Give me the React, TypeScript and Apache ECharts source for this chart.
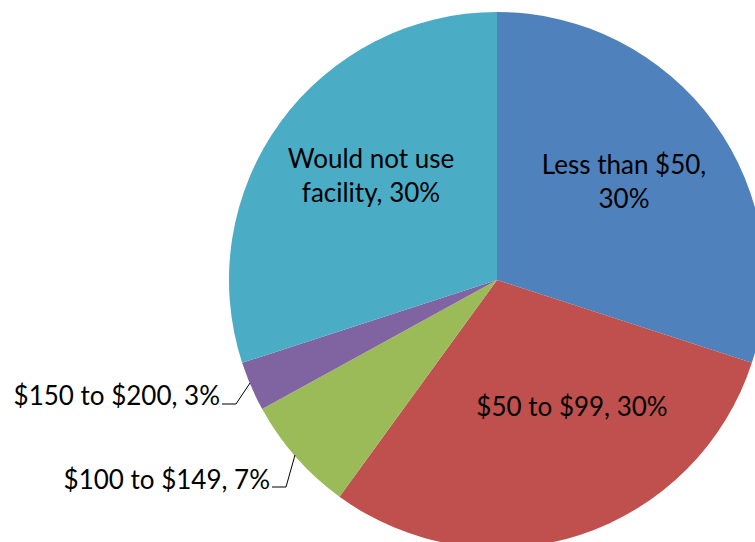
import React, { useEffect, useRef } from "react";
import * as echarts from "echarts";

const categories = ["Less than $50", "$50 to $99", "$100 to $149", "$150 to $200", "Would not use facility"];
const values = [30, 30, 7, 3, 30];
const colors = ["#4F81BD", "#C0504D", "#9BBB59", "#8064A2", "#4BACC6"];
const labelTexts = ["Less than $50,\n30%", "$50 to $99, 30%", "$100 to $149, 7%", "$150 to $200, 3%", "Would not use\nfacility, 30%"];

// label layout positions (pixels)
const labelPos: any[] = [
  { x: 624, y: 181, align: "center" },
  { x: 572, y: 406, align: "center" },
  { x: 270, y: 479, align: "right" },
  { x: 220, y: 395, align: "right" },
  { x: 371, y: 175, align: "center" },
];
const leaderLines = [
  [[295, 455], [286, 487], [272, 487]],
  [[250, 383], [236, 404], [222, 404]],
];

export default function App() {
  const ref = useRef<HTMLDivElement>(null);
  useEffect(() => {
    const chart = echarts.init(ref.current!, undefined, { renderer: "svg" });
    chart.setOption({
      animation: false,
      backgroundColor: "#ffffff",
      graphic: leaderLines.map((pts) => ({
        type: "polyline",
        shape: { points: pts },
        style: { stroke: "#000", lineWidth: 1, fill: null },
        z: 10,
      })),
      series: [
        {
          type: "pie",
          center: [497, 280],
          radius: 268,
          startAngle: 90,
          clockwise: true,
          data: categories.map((c, i) => ({
            name: c,
            value: values[i],
            itemStyle: { color: colors[i] },
            label: { formatter: labelTexts[i] },
          })),
          label: {
            show: true,
            position: "inside",
            fontFamily: "Lato, 'Open Sans', sans-serif",
            fontSize: 26,
            lineHeight: 34,
            color: "#000",
          },
          labelLine: { show: false },
          labelLayout: (p: any) => {
            const lp = labelPos[p.dataIndex];
            return { x: lp.x, y: lp.y, align: lp.align, verticalAlign: "middle" };
          },
          emphasis: { disabled: true },
        },
      ],
    });
    return () => chart.dispose();
  }, []);
  return <div ref={ref} style={{ position: "absolute", left: 0, top: 0, width: 755, height: 542 }} />;
}
